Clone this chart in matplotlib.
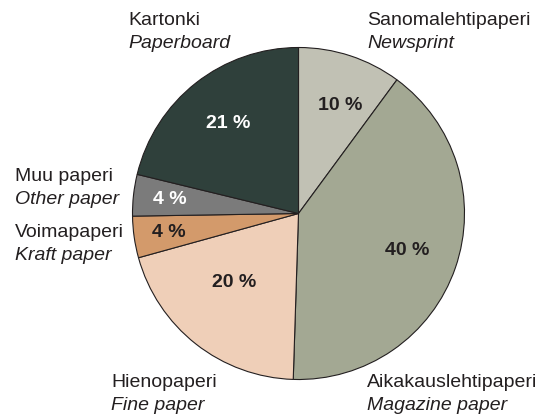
import matplotlib
matplotlib.use("Agg")
import matplotlib.pyplot as plt
import numpy as np

# Paper and paperboard production by grade
names_fi = ["Sanomalehtipaperi", "Aikakauslehtipaperi", "Hienopaperi",
            "Voimapaperi", "Muu paperi", "Kartonki"]
names_en = ["Newsprint", "Magazine paper", "Fine paper",
            "Kraft paper", "Other paper", "Paperboard"]
shares = [10, 40, 20, 4, 4, 21]

colors = ["#c1c1b4", "#a3a893", "#efcfb8", "#d39a6b", "#7b7b7b", "#2f403b"]
pct_colors = ["#231f20", "#231f20", "#231f20", "#231f20", "white", "white"]
# radial distance (fraction of radius) and angular nudge (deg) of each value label
pct_dist = [0.70, 0.69, 0.57, 0.79, 0.78, 0.69]
pct_turn = [-3, 0, -5, 0, 0, 0]

plt.rcParams["font.family"] = ["Liberation Sans", "DejaVu Sans"]

W, H = 545, 417
fig = plt.figure(figsize=(W / 100, H / 100), dpi=100)
ax = fig.add_axes([0, 0, 1, 1])

cx, cy, r = 298.5, H - 213.5, 166
wedges, _ = ax.pie(shares, colors=colors, startangle=90, counterclock=False,
                   center=(cx, cy), radius=r,
                   wedgeprops=dict(edgecolor="#231f20", linewidth=0.8))
ax.set_xlim(0, W)
ax.set_ylim(0, H)
ax.set_aspect("equal")
ax.axis("off")

for w, v, c, d, t in zip(wedges, shares, pct_colors, pct_dist, pct_turn):
    ang = np.deg2rad((w.theta1 + w.theta2) / 2 + t)
    x = cx + d * r * np.cos(ang)
    y = cy + d * r * np.sin(ang)
    ax.text(x, y, f"{v} %", ha="center", va="center", color=c,
            fontsize=14, fontweight="bold")

# category labels: left x and baseline of the Finnish line, pixels from top-left
label_pos = [(367, 25), (367, 387), (111, 387), (15, 237), (15, 181), (128, 25)]
gap = 23
for (x, y), fi, en in zip(label_pos, names_fi, names_en):
    ax.text(x, H - y, fi, ha="left", va="baseline", fontsize=14, color="#231f20")
    ax.text(x, H - y - gap, en, ha="left", va="baseline", fontsize=14,
            color="#231f20", style="italic")

fig.savefig("out.png", dpi=100)
